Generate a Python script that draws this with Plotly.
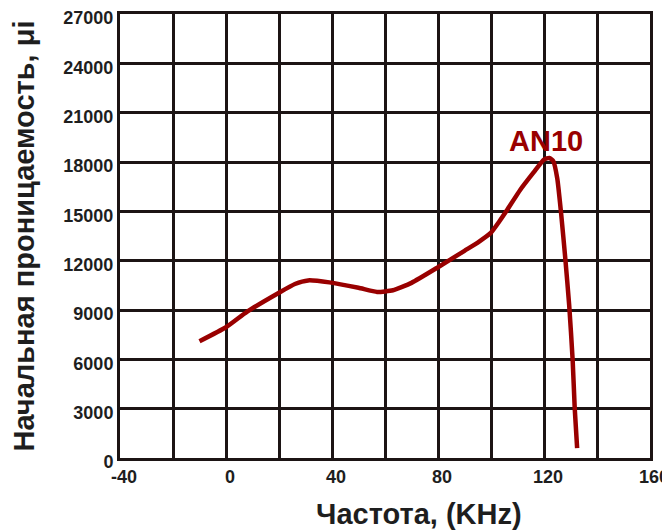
import plotly.graph_objects as go

freq_khz = [-10, 0, 8, 20, 26, 31, 39, 50, 57, 63, 70, 80, 90, 95, 100, 103, 106, 111, 116, 120, 122, 123.5, 125, 126.5, 128, 129.5, 130.8, 131.6, 132.5]
permeability = [7100, 7950, 8900, 10050, 10580, 10800, 10680, 10350, 10100, 10200, 10650, 11600, 12600, 13100, 13700, 14350, 15060, 16300, 17350, 18150, 18250, 18050, 17000, 14800, 12200, 9300, 6000, 3000, 600]

x_ticks = [-40, 0, 40, 80, 120, 160]
x_tick_labels = ["-40", "0", "40", "80", "120", "160"]
y_ticks = [0, 3000, 6000, 9000, 12000, 15000, 18000, 21000, 24000, 27000]
y_tick_labels = [str(v) for v in y_ticks]

series_label = "AN10"
label_x, label_y = 120.8, 19300
x_title = "Частота, (KHz)"
y_title = "Начальная проницаемость, μi"

grid = "#1c1414"
red = "#990000"
txt = "#1e1e1e"
fam = "Liberation Sans, Arial"

fig = go.Figure()
fig.add_trace(go.Scatter(
    x=freq_khz, y=permeability, mode="lines",
    line=dict(color=red, width=4.5, shape="spline", smoothing=0.5),
    showlegend=False, hoverinfo="skip",
))
fig.add_annotation(x=label_x, y=label_y, text="<b>" + series_label + "</b>",
                   showarrow=False, font=dict(family=fam, size=29, color=red),
                   xanchor="center", yanchor="middle")
# x axis title, placed right of centre as in the reference
fig.add_annotation(xref="paper", yref="paper", x=0.564, y=0, yshift=-56,
                   text="<b>" + x_title + "</b>", showarrow=False,
                   font=dict(family=fam, size=29, color=txt),
                   xanchor="center", yanchor="middle")

# the page body has an 8px margin, so margins are shifted by 8px
fig.update_layout(
    width=670, height=530,
    margin=dict(l=112, r=28, t=6, b=80, autoexpand=False),
    paper_bgcolor="white", plot_bgcolor="white",
    font=dict(family=fam, color=txt),
)
fig.update_xaxes(
    range=[-40, 160], tickmode="array", tickvals=x_ticks, ticktext=x_tick_labels,
    showgrid=False, zeroline=False, automargin=False,
    showline=True, linecolor=grid, linewidth=3, mirror=True,
    tickfont=dict(size=18, color=txt, family=fam, weight="bold"),
    ticks="", ticklabelstandoff=0, ticklabelshift=4, ticklabeloverflow="allow",
    minor=dict(dtick=20, tick0=-40, showgrid=True, gridcolor=grid, gridwidth=2.5),
)
fig.update_yaxes(
    range=[0, 27000], tickmode="array", tickvals=y_ticks, ticktext=y_tick_labels,
    showgrid=True, gridcolor=grid, gridwidth=2.5, zeroline=False, automargin=False,
    showline=True, linecolor=grid, linewidth=3, mirror=True,
    tickfont=dict(size=18, color=txt, family=fam, weight="bold"),
    ticks="", ticklabelstandoff=0, ticklabelshift=4, ticklabeloverflow="allow",
    title=dict(text="<b>" + y_title + "</b>", font=dict(size=29, color=txt), standoff=22),
)

fig.write_html("out.html")
